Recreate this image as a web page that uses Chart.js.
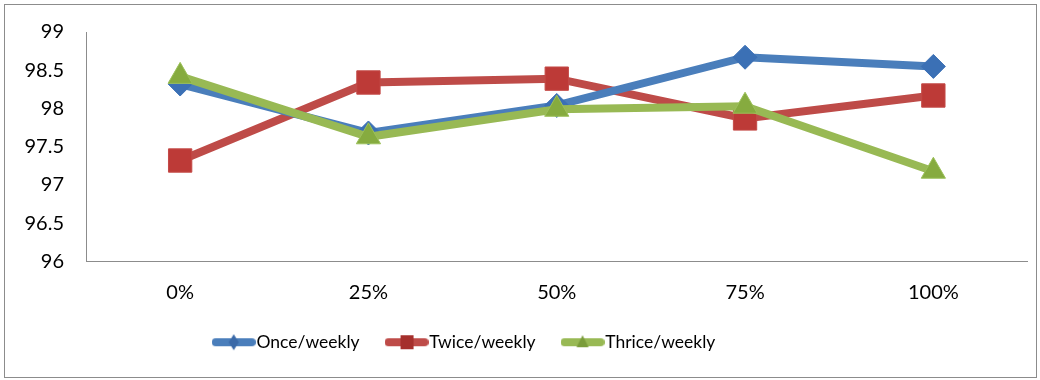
<!DOCTYPE html>
<html>
<head>
<meta charset="utf-8">
<script src="https://cdn.jsdelivr.net/npm/chart.js@4.4.1/dist/chart.umd.min.js"></script>
<style>
  html, body { margin: 0; padding: 0; background: #fff; overflow: hidden; }
  #frame { position: absolute; left: 4px; top: 4px; width: 1033px; height: 374px; box-sizing: border-box; border: 1px solid #8c8c8c; overflow: hidden; }
  #c { position: absolute; left: 0; top: 0; }
</style>
</head>
<body>
<div id="frame"><canvas id="c" width="1040" height="372"></canvas></div>
<script>
const categories = ['0%', '25%', '50%', '75%', '100%'];
const onceWeekly = [98.32, 97.68, 98.04, 98.67, 98.55];
const twiceWeekly = [97.32, 98.34, 98.39, 97.87, 98.17];
const thriceWeekly = [98.42, 97.63, 97.99, 98.03, 97.18];
const yTicks = [96, 96.5, 97, 97.5, 98, 98.5, 99];
const seriesNames = ['Once/weekly', 'Twice/weekly', 'Thrice/weekly'];

const FONT = 'Lato, "Open Sans", sans-serif';

function legendIcon(lineColor, markColor, style) {
  const cv = document.createElement('canvas');
  cv.width = 44; cv.height = 24;
  const g = cv.getContext('2d');
  g.strokeStyle = lineColor; g.lineWidth = 8; g.lineCap = 'round';
  g.beginPath(); g.moveTo(4, 12); g.lineTo(40, 12); g.stroke();
  g.fillStyle = markColor;
  g.beginPath();
  if (style === 'diamond') {
    g.moveTo(22, 4); g.lineTo(27, 12); g.lineTo(22, 20); g.lineTo(17, 12);
  } else if (style === 'square') {
    g.rect(16, 5, 13, 14);
  } else {
    g.moveTo(22, 5); g.lineTo(28, 17); g.lineTo(16, 17);
  }
  g.closePath(); g.fill();
  return cv;
}

const icons = [
  legendIcon('#4a7ebb', '#3a69a8', 'diamond'),
  legendIcon('#be4b48', '#a52f2c', 'square'),
  legendIcon('#98b954', '#7a9c3a', 'triangle')
];

const legendShift = {
  id: 'legendShift',
  afterLayout(chart) {
    const lg = chart.legend;
    if (!lg) return;
    lg.left -= 52; lg.right -= 52;
    lg.top -= 6; lg.bottom -= 6;
  }
};

new Chart(document.getElementById('c'), {
  type: 'line',
  data: {
    labels: categories,
    datasets: [
      { label: seriesNames[0], data: onceWeekly, borderColor: '#4a7ebb', backgroundColor: '#3b70b5',
        pointBorderColor: '#3b70b5', borderWidth: 8, pointStyle: 'rectRot', pointRadius: 12, pointBorderWidth: 1, order: 2 },
      { label: seriesNames[1], data: twiceWeekly, borderColor: '#be4b48', backgroundColor: '#bd3a37',
        pointBorderColor: '#c44a47', borderWidth: 8, pointStyle: 'rect', pointRadius: 16.5, pointBorderWidth: 1, order: 3 },
      { label: seriesNames[2], data: thriceWeekly, borderColor: '#98b954', backgroundColor: '#86ab3f',
        pointBorderColor: '#9cc15a', borderWidth: 8, pointStyle: 'triangle', pointRadius: 14, pointBorderWidth: 1, order: 1 }
    ]
  },
  options: {
    responsive: false,
    animation: false,
    devicePixelRatio: 1,
    layout: { padding: { left: 0, top: 27, right: 11, bottom: 10 } },
    elements: { line: { tension: 0 } },
    plugins: {
      tooltip: { enabled: false },
      legend: {
        position: 'bottom',
        labels: {
          font: { family: FONT, size: 17.5 },
          color: '#000',
          usePointStyle: true,
          pointStyleWidth: 28,
          padding: 33,
          generateLabels(chart) {
            return chart.data.datasets.map((ds, i) => ({
              text: ds.label, pointStyle: icons[i], datasetIndex: i,
              fillStyle: ds.borderColor, strokeStyle: ds.borderColor, lineWidth: 0, hidden: false, fontColor: '#000'
            }));
          }
        }
      }
    },
    scales: {
      x: {
        offset: true,
        grid: { display: false, drawTicks: false },
        border: { display: true, color: '#8c8c8c', width: 1 },
        ticks: { font: { family: FONT, size: 20 }, color: '#000', padding: 19 },
        afterFit(s) { s.height = 45; s.paddingLeft = 0; s.paddingRight = 0; }
      },
      y: {
        min: 96, max: 99,
        grid: { display: false, drawTicks: false },
        border: { display: true, color: '#8c8c8c', width: 1 },
        afterBuildTicks(s) { s.ticks = yTicks.map(v => ({ value: v })); },
        ticks: { font: { family: FONT, size: 20 }, color: '#000', padding: 22, callback: v => String(v) },
        afterFit(s) { s.width = 81; s.paddingTop = 0; s.paddingBottom = 0; }
      }
    }
  },
  plugins: [legendShift]
});
</script>
</body>
</html>
